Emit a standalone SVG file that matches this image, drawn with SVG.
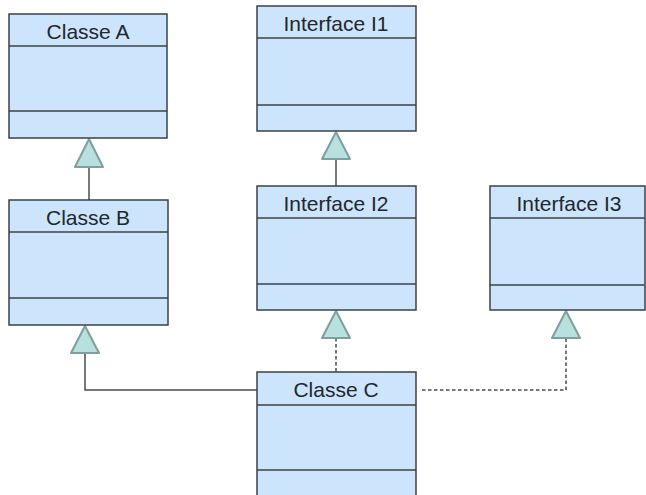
<svg xmlns="http://www.w3.org/2000/svg" width="646" height="495" viewBox="0 0 646 495">
  <style>
    .box { fill: #cce5fd; stroke: #3d4045; stroke-width: 1.5; }
    .sep { stroke: #3d4045; stroke-width: 1.5; fill: none; }
    .title { font-family: "Liberation Sans", Arial, sans-serif; font-size: 21px; fill: #23262b; text-anchor: middle; }
    .edge { fill: none; stroke: #4a4d52; stroke-width: 1.5; }
    .dash { stroke-dasharray: 3.5 2.5; }
    .head { fill: #b8e0de; stroke: #7f9e9e; stroke-width: 2; stroke-linejoin: round; }
  </style>
  <rect width="646" height="495" fill="#ffffff"/>

  <!-- connectors -->
  <g id="connectors">
    <!-- Classe B extends Classe A -->
    <line class="edge" x1="89" y1="167" x2="89" y2="200"/>
    <polygon class="head" points="89,139 103,167 75,167"/>
    <!-- Interface I2 extends Interface I1 -->
    <line class="edge" x1="336" y1="159" x2="336" y2="186"/>
    <polygon class="head" points="336,132 350,159 322,159"/>
    <!-- Classe C extends Classe B -->
    <polyline class="edge" points="257,390 85,390 85,353"/>
    <polygon class="head" points="85,326 99,353 71,353"/>
    <!-- Classe C implements Interface I2 -->
    <line class="edge dash" x1="336" y1="338" x2="336" y2="372"/>
    <polygon class="head" points="336,311 350,338 322,338"/>
    <!-- Classe C implements Interface I3 -->
    <polyline class="edge dash" points="422,390 566,390 566,338"/>
    <polygon class="head" points="566,311 580,338 552,338"/>
  </g>

  <g id="classe-a">
    <rect class="box" x="9" y="14" width="158" height="124"/>
    <line class="sep" x1="9" y1="46" x2="167" y2="46"/>
    <line class="sep" x1="9" y1="111" x2="167" y2="111"/>
    <text class="title" x="88" y="39">Classe A</text>
  </g>

  <g id="interface-i1">
    <rect class="box" x="257" y="6" width="159" height="125"/>
    <line class="sep" x1="257" y1="38" x2="416" y2="38"/>
    <line class="sep" x1="257" y1="105" x2="416" y2="105"/>
    <text class="title" x="336" y="31">Interface I1</text>
  </g>

  <g id="classe-b">
    <rect class="box" x="9" y="200" width="159" height="125"/>
    <line class="sep" x1="9" y1="232" x2="168" y2="232"/>
    <line class="sep" x1="9" y1="298" x2="168" y2="298"/>
    <text class="title" x="88" y="225">Classe B</text>
  </g>

  <g id="interface-i2">
    <rect class="box" x="257" y="186" width="159" height="124"/>
    <line class="sep" x1="257" y1="218" x2="416" y2="218"/>
    <line class="sep" x1="257" y1="284" x2="416" y2="284"/>
    <text class="title" x="336" y="211">Interface I2</text>
  </g>

  <g id="interface-i3">
    <rect class="box" x="490" y="186" width="155" height="124"/>
    <line class="sep" x1="490" y1="218" x2="645" y2="218"/>
    <line class="sep" x1="490" y1="285" x2="645" y2="285"/>
    <text class="title" x="569" y="211">Interface I3</text>
  </g>

  <g id="classe-c">
    <rect class="box" x="257" y="372" width="159" height="130"/>
    <line class="sep" x1="257" y1="405" x2="416" y2="405"/>
    <line class="sep" x1="257" y1="470" x2="416" y2="470"/>
    <text class="title" x="336" y="397">Classe C</text>
  </g>
</svg>
